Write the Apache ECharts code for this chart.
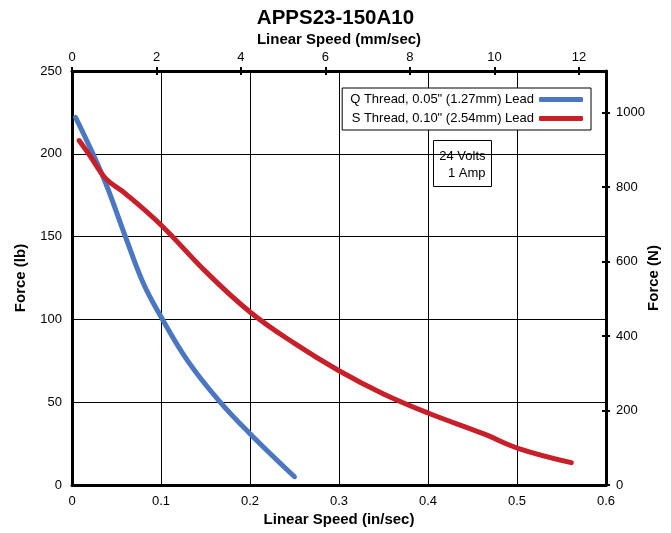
<!DOCTYPE html>
<html><head><meta charset="utf-8">
<script src="https://cdn.jsdelivr.net/npm/echarts@6/dist/echarts.min.js"></script>
<style>html,body{margin:0;padding:0;background:#fff}#c{width:671px;height:533px}</style>
</head><body><div id="c"></div>
<script>
var titleText = 'APPS23-150A10';
var seriesNames = ['Q Thread, 0.05" (1.27mm) Lead', 'S Thread, 0.10" (2.54mm) Lead'];
var qSpeed = [0.004, 0.035, 0.06, 0.08, 0.1, 0.13, 0.165, 0.2, 0.25];
var qForce = [222, 186, 150, 122, 101.6, 75, 51, 31, 5];
var sSpeed = [0.008, 0.02, 0.038, 0.06, 0.1, 0.15, 0.2, 0.25, 0.3, 0.35, 0.4, 0.462, 0.502, 0.561];
var sForce = [208, 199, 185, 176, 157, 129, 104.5, 85.5, 69, 55, 43.5, 31, 22, 13.5];
var noteLines = ['24 Volts', '1 Amp'];

var F = 'Liberation Sans, Arial, sans-serif';
function pairs(xs, ys){ return xs.map(function(x,i){return [x, ys[i]];}); }
function plain(v){ return String(+v.toFixed(2)); }
var nameStyle = {fontFamily:F,fontSize:15,fontWeight:'bold',color:'#000'};
var lblStyle = {fontFamily:F,fontSize:13,color:'#000'};
var chart = echarts.init(document.getElementById('c'));
chart.setOption({
  animation:false,
  backgroundColor:'#fff',
  title:{text:titleText,left:'center',top:3,textStyle:{fontFamily:F,fontSize:20.5,fontWeight:'bold',color:'#000'}},
  grid:{left:72,right:65,top:71,bottom:48,outerBoundsMode:'none',containLabel:false},
  legend:{
    data:seriesNames, orient:'vertical', right:80, top:88, align:'right',
    itemWidth:44, itemHeight:5, itemGap:6, padding:[5,8,5,8],
    borderColor:'#000', borderWidth:1, backgroundColor:'#fff',
    textStyle:{fontFamily:F,fontSize:13,color:'#000'}, icon:'roundRect'
  },
  xAxis:[
    {type:'value',position:'bottom',min:0,max:0.6,interval:0.1,
     name:'Linear Speed (in/sec)',nameLocation:'middle',nameGap:27,nameMoveOverlap:false,nameTextStyle:nameStyle,
     axisLine:{onZero:false,lineStyle:{color:'#000',width:3}},axisTick:{show:false},
     axisLabel:Object.assign({margin:10,formatter:plain},lblStyle),
     splitLine:{show:true,lineStyle:{color:'#000',width:1}}},
    {type:'value',position:'top',min:0,max:12.64,interval:2,
     name:'Linear Speed (mm/sec)',nameLocation:'middle',nameGap:24,nameMoveOverlap:false,nameTextStyle:nameStyle,
     axisLine:{onZero:false,lineStyle:{color:'#000',width:3}},axisTick:{show:true,length:4,lineStyle:{color:'#000',width:2}},
     axisLabel:Object.assign({margin:7,showMaxLabel:false,formatter:plain},lblStyle),
     splitLine:{show:false}},
    {type:'value',position:'top',min:0,max:12.64,interval:2,
     axisLine:{show:false,onZero:false},axisTick:{show:true,inside:true,length:4,lineStyle:{color:'#000',width:2}},
     axisLabel:{show:false},splitLine:{show:false}}
  ],
  yAxis:[
    {type:'value',position:'left',min:0,max:250,interval:50,
     name:'Force (lb)',nameLocation:'middle',nameGap:44,nameMoveOverlap:false,nameTextStyle:nameStyle,
     axisLine:{show:true,onZero:false,lineStyle:{color:'#000',width:3}},axisTick:{show:false},
     axisLabel:Object.assign({margin:10,formatter:plain},lblStyle),
     splitLine:{show:true,lineStyle:{color:'#000',width:1}}},
    {type:'value',position:'right',min:0,max:1112.06,interval:200,
     name:'Force (N)',nameLocation:'middle',nameGap:40,nameRotate:90,nameMoveOverlap:false,nameTextStyle:nameStyle,
     axisLine:{show:true,onZero:false,lineStyle:{color:'#000',width:3}},axisTick:{show:true,length:4,lineStyle:{color:'#000',width:2}},
     axisLabel:Object.assign({margin:10,showMaxLabel:false,formatter:plain},lblStyle),
     splitLine:{show:false}},
    {type:'value',position:'right',min:0,max:1112.06,interval:200,
     axisLine:{show:false,onZero:false},axisTick:{show:true,inside:true,length:4,lineStyle:{color:'#000',width:2}},
     axisLabel:{show:false},splitLine:{show:false}}
  ],
  graphic:[{
    type:'group', left:433, top:140,
    children:[
      {type:'rect',shape:{x:0,y:0,width:58,height:46},style:{fill:'#fff',stroke:'#000',lineWidth:1}},
      {type:'text',x:52,y:7,style:{text:noteLines.join('\n'),align:'right',fill:'#000',font:'13px '+F,lineHeight:17}}
    ]
  }],
  series:[
    {name:seriesNames[0],type:'line',smooth:0.4,showSymbol:false,xAxisIndex:0,yAxisIndex:0,
     data:pairs(qSpeed,qForce),lineStyle:{color:'#4a76c2',width:5,cap:'round'},itemStyle:{color:'#4a76c2'}},
    {name:seriesNames[1],type:'line',smooth:0.4,showSymbol:false,xAxisIndex:0,yAxisIndex:0,
     data:pairs(sSpeed,sForce),lineStyle:{color:'#c8202a',width:5,cap:'round'},itemStyle:{color:'#c8202a'}}
  ]
});
</script></body></html>
